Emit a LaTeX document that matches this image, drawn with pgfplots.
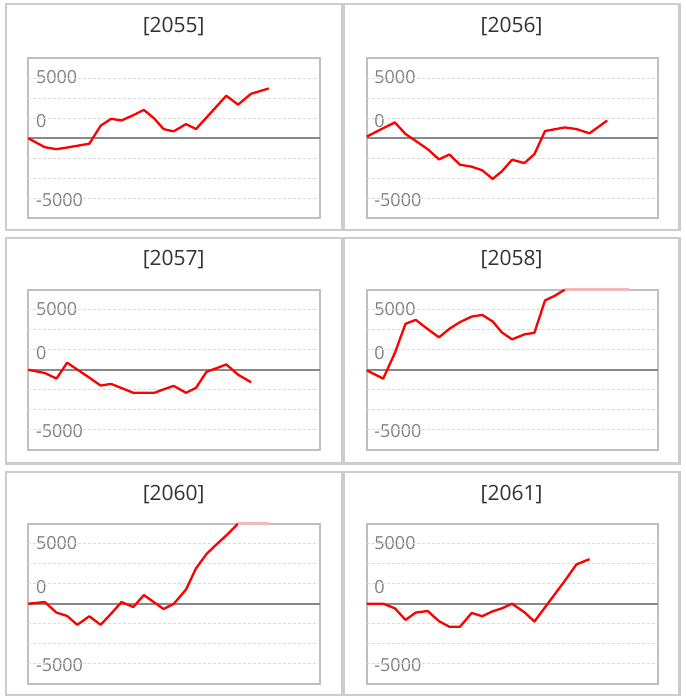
\documentclass[border=0pt]{standalone}
\usepackage{fontspec}
\setmainfont{Open Sans}
\usepackage{pgfplots}
\pgfplotsset{compat=1.18}
\usepackage{pgfplotstable}

\definecolor{panelborder}{HTML}{CCCCCC}
\definecolor{axisborder}{HTML}{BFBFBF}
\definecolor{gridc}{HTML}{DADADA}
\definecolor{zeroc}{HTML}{888888}
\definecolor{tickc}{HTML}{7F7F7F}
\definecolor{titlec}{HTML}{333333}
\definecolor{linec}{HTML}{FF0000}
\definecolor{clipc}{HTML}{F2B8B8}

\pgfplotstableread{
x y
0 0
16.5 -1114
28.2 -1361
38.8 -1151
49 -932
61 -680
72.3 1568
82.7 2434
93.2 2228
105 2888
115.5 3548
126 2475
135.2 1155
145.3 866
157.7 1774
167.7 1155
178.3 2612
188 3946
198 5321
209.7 4208
222.8 5569
240.5 6229
}\dataA

\pgfplotstableread{
x y
0 206
16.5 1263
28.2 1980
38.8 536
49 -330
61 -1361
72.3 -2640
82.7 -2021
93.2 -3300
105 -3548
115.5 -4001
126 -5074
135.2 -4125
145.3 -2681
157.7 -3094
167.7 -1980
178.3 908
188 1127
198 1361
209.7 1155
222.8 619
240.5 2228
}\dataB

\pgfplotstableread{
x y
0 0
16.5 -413
28.2 -1114
38.8 866
49 21
61 -992
72.3 -1980
82.7 -1774
93.2 -2299
105 -2888
115.5 -2888
126 -2888
135.2 -2468
145.3 -2021
157.7 -2888
167.7 -2269
178.3 -248
188 175
198 660
209.7 -619
222.8 -1568
}\dataC

\pgfplotstableread{
x y
0 -83
16.5 -1114
28.2 2104
38.8 5734
49 6229
61 5075
72.3 4043
82.7 5115
93.2 5940
105 6641
115.5 6848
126 6023
135.2 4661
145.3 3795
157.7 4414
167.7 4620
178.3 8663
188 9240
198 10000
}\dataD

\pgfplotstableread{
x y
0 0
16.5 206
28.2 -1114
38.8 -1526
49 -2640
61 -1568
72.3 -2640
82.7 -1258
93.2 206
105 -413
115.5 1073
126 161
135.2 -660
145.3 -41
157.7 1774
167.7 4414
178.3 6229
188 7384
198 8539
209.7 10000
}\dataE

\pgfplotstableread{
x y
0 0
16.5 0
28.2 -578
38.8 -2021
49 -1114
61 -908
72.3 -2186
82.7 -2888
93.2 -2888
105 -1155
115.5 -1568
126 -949
135.2 -578
145.3 0
157.7 -1073
167.7 -2228
178.3 -452
188 1173
198 2848
209.7 4909
222.8 5569
}\dataF

\pgfplotsset{
  panel/.style={
    scale only axis, width=291.4pt, height=160pt, anchor=south west,
    xmin=0, xmax=291.4, ymin=-10000, ymax=10000,
    xtick=\empty,
    ytick={-7700,2100,7625}, yticklabels={-5000,0,5000},
    major tick length=0pt,
    yticklabel style={anchor=west, inner sep=0pt, xshift=7.5pt,
      font=\fontsize{18pt}{20pt}\selectfont, text=tickc},
    extra y ticks={-7500,-5000,-2500,2500,5000,7500},
    extra y tick labels={},
    extra y tick style={grid=major,
      major grid style={gridc, line width=1pt, dash pattern=on 3pt off 2pt}},
    axis line style={axisborder, line width=1.8pt},
    clip=false,
    scaled y ticks=false,
  },
  redline/.style={linec, line width=2.3pt, line join=round},
  zeroline/.style={zeroc, line width=1.8pt, forget plot},
  clipline/.style={clipc, line width=2.6pt},
}

\begin{document}
\begin{tikzpicture}
\useasboundingbox (0pt,0pt) rectangle (685pt,700pt);

% panel frames
\draw[panelborder, line width=2.2pt] (5.7pt,695.7pt) rectangle (341.7pt,470.3pt);
\draw[panelborder, line width=2.2pt] (343.7pt,695.7pt) rectangle (679.5pt,470.3pt);
\draw[panelborder, line width=2.2pt] (5.7pt,462.3pt) rectangle (341.7pt,236.5pt);
\draw[panelborder, line width=2.2pt] (343.7pt,462.3pt) rectangle (679.5pt,236.5pt);
\draw[panelborder, line width=2.2pt] (5.7pt,228pt) rectangle (341.7pt,5pt);
\draw[panelborder, line width=2.2pt] (343.7pt,228pt) rectangle (679.5pt,5pt);

% titles
\begin{scope}[every node/.style={font=\fontsize{21pt}{24pt}\selectfont, text=titlec}]
\node at (173.7pt,673.3pt) {[2055]};
\node at (511.6pt,673.3pt) {[2056]};
\node at (173.7pt,440pt) {[2057]};
\node at (511.6pt,440pt) {[2058]};
\node at (173.7pt,205.7pt) {[2060]};
\node at (511.6pt,205.7pt) {[2061]};
\end{scope}

\begin{axis}[panel, at={(28.3pt,481.7pt)}]
\addplot[zeroline] coordinates {(0,0) (291.4,0)};
\addplot[redline] table[x=x,y=y] {\dataA};
\end{axis}

\begin{axis}[panel, at={(366.7pt,481.7pt)}]
\addplot[zeroline] coordinates {(0,0) (291.4,0)};
\addplot[redline] table[x=x,y=y] {\dataB};
\end{axis}

\begin{axis}[panel, at={(28.3pt,250.3pt)}]
\addplot[zeroline] coordinates {(0,0) (291.4,0)};
\addplot[redline] table[x=x,y=y] {\dataC};
\end{axis}

\begin{axis}[panel, at={(366.7pt,250.3pt)}]
\addplot[zeroline] coordinates {(0,0) (291.4,0)};
\addplot[redline] table[x=x,y=y] {\dataD};
\addplot[clipline] coordinates {(198,10000) (262,10000)};
\end{axis}

\begin{axis}[panel, at={(28.3pt,16.3pt)}]
\addplot[zeroline] coordinates {(0,0) (291.4,0)};
\addplot[redline] table[x=x,y=y] {\dataE};
\addplot[clipline] coordinates {(209.7,10000) (240.5,10000)};
\end{axis}

\begin{axis}[panel, at={(366.7pt,16.3pt)}]
\addplot[zeroline] coordinates {(0,0) (291.4,0)};
\addplot[redline] table[x=x,y=y] {\dataF};
\end{axis}

\end{tikzpicture}
\end{document}
